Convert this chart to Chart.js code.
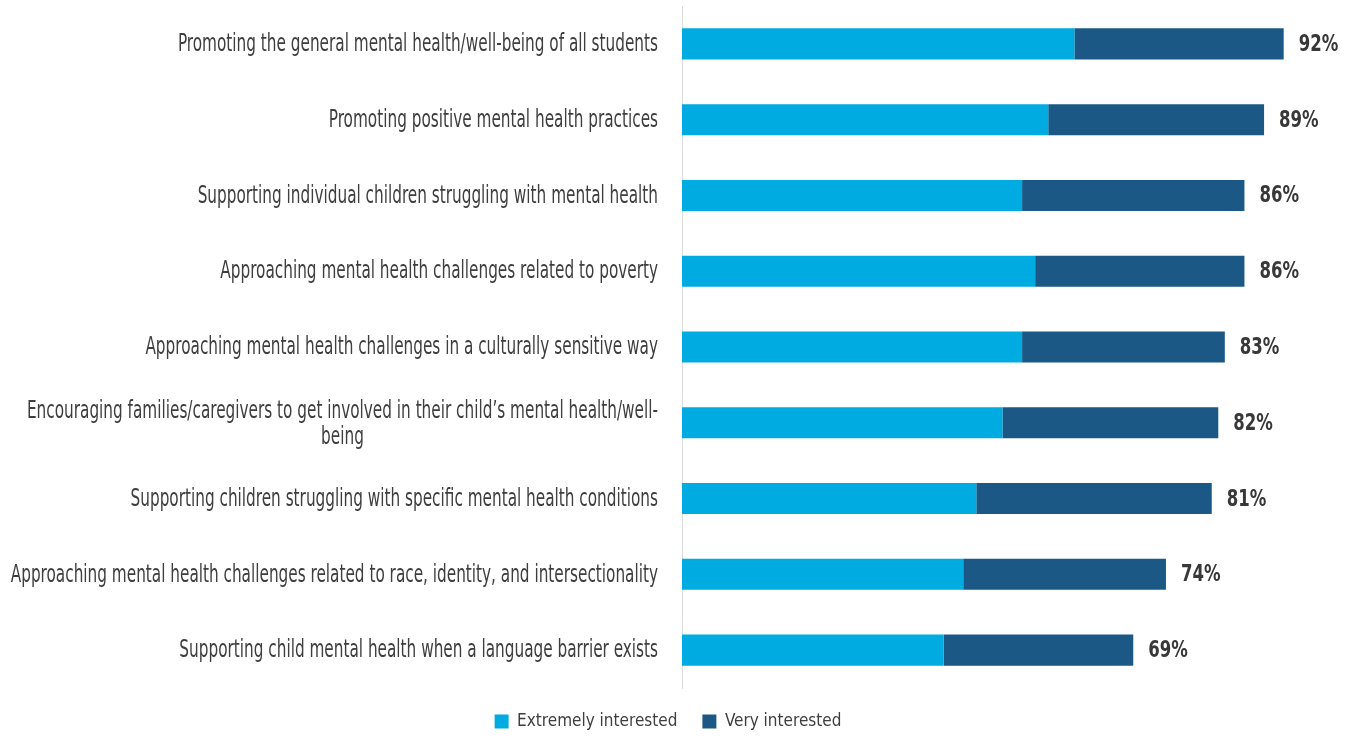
<!DOCTYPE html>
<html>
<head>
<meta charset="utf-8">
<script src="https://cdn.jsdelivr.net/npm/chart.js@4.4.0/dist/chart.umd.min.js"></script>
<style>
  html, body { margin: 0; padding: 0; background: #fff; }
  #wrap { width: 1354px; height: 738px; position: relative; }
</style>
</head>
<body>
<div id="wrap"><canvas id="c"></canvas></div>
<script>
const categories = [
  'Promoting the general mental health/well-being of all students',
  'Promoting positive mental health practices',
  'Supporting individual children struggling with mental health',
  'Approaching mental health challenges related to poverty',
  'Approaching mental health challenges in a culturally sensitive way',
  ['Encouraging families/caregivers to get involved in their child\u2019s mental health/well-', 'being'],
  'Supporting children struggling with specific mental health conditions',
  'Approaching mental health challenges related to race, identity, and intersectionality',
  'Supporting child mental health when a language barrier exists'
];
const extremelyInterested = [60, 56, 52, 54, 52, 49, 45, 43, 40];
const veryInterested = [32, 33, 34, 32, 31, 33, 36, 31, 29];
const totalLabels = ['92%', '89%', '86%', '86%', '83%', '82%', '81%', '74%', '69%'];

const FONT = '"DejaVu Sans Condensed", "Liberation Sans Narrow", "Roboto", sans-serif';
const SQUEEZE = 0.708; // the original face is much narrower than anything installed

function squeezedText(ctx, text, x, y, sx) {
  ctx.save();
  ctx.translate(x, y);
  ctx.scale(sx, 1);
  ctx.fillText(text, 0, 0);
  ctx.restore();
}

// y-axis labels drawn by hand so the wrapped one can be centred like the original
const yLabels = {
  id: 'yLabels',
  afterDraw(chart) {
    const ctx = chart.ctx;
    const y = chart.scales.y;
    ctx.save();
    ctx.font = '24px ' + FONT;
    ctx.fillStyle = '#3e3e3e';
    ctx.textBaseline = 'middle';
    const xr = y.right - 24;
    categories.forEach((lab, i) => {
      const cy = y.getPixelForTick(i) + 1;
      if (Array.isArray(lab)) {
        const w = ctx.measureText(lab[0]).width * SQUEEZE;
        ctx.textAlign = 'center';
        lab.forEach((line, k) => {
          squeezedText(ctx, line, xr - w / 2, cy - 12 + k * 26, SQUEEZE);
        });
      } else {
        ctx.textAlign = 'right';
        squeezedText(ctx, lab, xr, cy, SQUEEZE);
      }
    });
    ctx.restore();
  }
};

const totals = {
  id: 'totals',
  afterDatasetsDraw(chart) {
    const ctx = chart.ctx;
    const meta = chart.getDatasetMeta(1);
    ctx.save();
    ctx.font = 'bold 23px ' + FONT;
    ctx.fillStyle = '#383838';
    ctx.textAlign = 'left';
    ctx.textBaseline = 'middle';
    meta.data.forEach((bar, i) => {
      squeezedText(ctx, totalLabels[i], bar.x + 15, bar.y + 1, 0.8);
    });
    ctx.restore();
  }
};

new Chart(document.getElementById('c'), {
  type: 'bar',
  data: {
    labels: categories,
    datasets: [
      {
        label: 'Extremely interested',
        data: extremelyInterested,
        backgroundColor: '#00ABE1',
        borderWidth: 0,
        barPercentage: 0.82,
        categoryPercentage: 0.5
      },
      {
        label: 'Very interested',
        data: veryInterested,
        backgroundColor: '#1B5885',
        borderWidth: 0,
        barPercentage: 0.82,
        categoryPercentage: 0.5
      }
    ]
  },
  options: {
    indexAxis: 'y',
    responsive: true,
    maintainAspectRatio: false,
    animation: false,
    layout: { padding: { top: 6, right: 18, left: 0, bottom: -2 } },
    plugins: {
      legend: {
        position: 'bottom',
        labels: {
          boxWidth: 14,
          boxHeight: 14,
          padding: 25,
          color: '#3e3e3e',
          font: { family: FONT, size: 17 }
        }
      },
      tooltip: { enabled: false }
    },
    scales: {
      x: {
        stacked: true,
        min: 0,
        max: 100,
        grid: { display: false },
        border: { display: false },
        ticks: { display: false },
        afterFit: (s) => { s.height = 0; }
      },
      y: {
        stacked: true,
        grid: { display: false },
        border: { display: true, color: '#dcdcdc', width: 1 },
        ticks: { display: false },
        afterFit: (s) => { s.width = 682; }
      }
    }
  },
  plugins: [yLabels, totals]
});
</script>
</body>
</html>
